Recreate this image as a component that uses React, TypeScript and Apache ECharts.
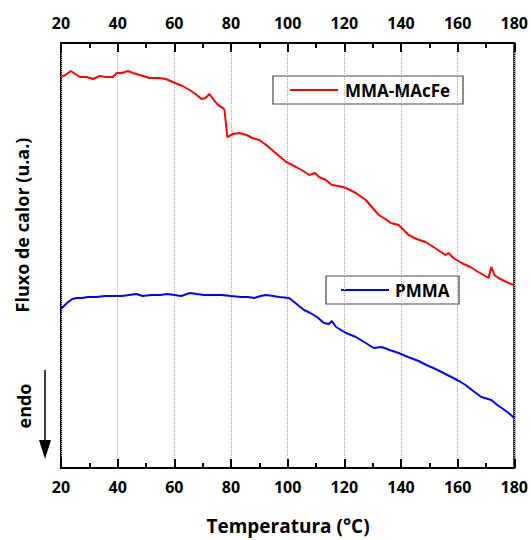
import React, { useEffect, useRef } from "react";
import * as echarts from "echarts";

// Temperature (°C) and heat flow (arbitrary units)
const mmaTemp = [20, 21.5, 23.5, 25.0, 26.7, 29.0, 31.3, 33.7, 36.0, 38.3, 39.7, 41.5, 43.6, 45.5, 47.8, 51.3, 54.8, 57.0, 59.4, 62.9, 65.4, 67.5, 69.6, 71.0, 72.4, 74.2, 75.9, 77.2, 77.7, 78.2, 78.7, 80.8, 82.9, 85.5, 87.5, 90.0, 92.0, 94.5, 97.0, 99.5, 103.0, 105.5, 107.6, 109.7, 111.1, 113.5, 115.6, 118.0, 120.6, 124.1, 127.6, 130.0, 132.2, 134.5, 136.4, 139.2, 142.7, 145.5, 148.7, 152.0, 155.7, 156.8, 158.5, 161.4, 164.5, 167.3, 170.9, 171.9, 173.0, 174.4, 176.5, 178.9, 180];
const mmaFlow = [391, 393, 397, 394, 391, 391, 389, 392, 391, 391, 395, 395, 397, 395, 393, 390, 390, 389, 386, 382, 378, 374, 369, 370, 374, 367, 362, 360, 358, 345, 331, 334, 335, 333, 330, 328, 324, 318, 312, 306, 301, 297, 293, 295, 291, 288, 283, 282, 280, 275, 268, 260, 253, 249, 245, 243, 233, 229, 226, 220, 213, 215, 210, 205, 201, 196, 190, 201, 193, 190, 187, 184, 183];

const pmmaTemp = [20, 21.0, 22.5, 24.0, 25.5, 27.5, 29.5, 32.5, 35.5, 38.5, 41.5, 44.0, 46.7, 48.8, 52.0, 55.0, 57.6, 60.0, 62.5, 65.4, 68.0, 70.6, 73.5, 76.6, 80.0, 83.6, 86.0, 88.2, 90.5, 92.4, 95.0, 97.0, 100.5, 102.3, 104.0, 105.8, 108.0, 110.4, 112.8, 114.6, 115.6, 117.1, 120.6, 124.1, 127.0, 130.4, 133.2, 136.0, 139.2, 142.5, 146.2, 149.0, 152.2, 155.0, 157.8, 160.5, 162.8, 165.5, 168.4, 171.9, 174.0, 176.1, 178.0, 180];
const pmmaFlow = [159, 162, 166, 169, 170, 170, 171, 171, 172, 172, 172, 173, 174, 172, 173, 173, 174, 173, 172, 175, 174, 173, 173, 173, 172, 171, 171, 170, 172, 173, 172, 171, 170, 166, 162, 158, 155, 151, 145, 144, 147, 141, 135, 131, 126, 120, 121, 118, 115, 111, 107, 103, 99, 95, 91, 87, 83, 77, 71, 68, 63, 59, 55, 50];

const seriesNames = ["MMA-MAcFe", "PMMA"];
const seriesColors = ["#ff0000", "#0000ff"];
const xTitle = "Temperatura (°C)";
const yTitle = "Fluxo de calor (u.a.)";
const endoLabel = "endo";

const FONT = "'Open Sans', 'Noto Sans', sans-serif";

export default function App() {
  const ref = useRef<HTMLDivElement>(null);
  useEffect(() => {
    if (!ref.current) return;
    const chart = echarts.init(ref.current, null, { renderer: "svg" });
    const xAxisBase = {
      type: "value" as const,
      min: 20,
      max: 180,
      interval: 20,
      axisLine: { show: true, lineStyle: { color: "#000", width: 2 } },
      axisTick: { show: true, inside: true, length: 9, lineStyle: { color: "#000", width: 2 } },
      minorTick: { show: true, splitNumber: 2, length: 5, lineStyle: { color: "#000", width: 2 } },
      axisLabel: { color: "#000", fontSize: 16, fontWeight: "bold" as const, fontFamily: FONT },
      splitLine: { show: false },
    };
    const legendBox = (x: number, y: number, w: number, h: number, lineX: number, textX: number, name: string, color: string) => ({
      type: "group",
      children: [
        { type: "rect", shape: { x, y, width: w, height: h }, style: { fill: "#fff", stroke: "#444", lineWidth: 1.2 } },
        { type: "line", shape: { x1: lineX, y1: y + h / 2, x2: lineX + 48, y2: y + h / 2 }, style: { stroke: color, lineWidth: 2 } },
        { type: "text", x: textX, y: y + h / 2, style: { text: name, fill: "#000", font: `bold 17px ${FONT}`, textVerticalAlign: "middle", textAlign: "left" } },
      ],
    });
    chart.setOption({
      animation: false,
      backgroundColor: "#fff",
      grid: { left: 61, top: 43, width: 455, height: 425, show: true, borderColor: "#000", borderWidth: 2 },
      xAxis: [
        {
          ...xAxisBase,
          position: "bottom",
          axisLabel: { ...xAxisBase.axisLabel, margin: 11 },
          splitLine: { show: true, lineStyle: { color: "#aaa", type: "dotted", width: 1 } },
        },
        { ...xAxisBase, position: "top", axisLabel: { ...xAxisBase.axisLabel, margin: 12 } },
      ],
      yAxis: { type: "value", min: 0, max: 425, show: false },
      series: [
        {
          name: seriesNames[0],
          type: "line",
          data: mmaTemp.map((t, i) => [t, mmaFlow[i]]),
          showSymbol: false,
          symbol: "none",
          lineStyle: { color: seriesColors[0], width: 2 },
          xAxisIndex: 0,
        },
        {
          name: seriesNames[1],
          type: "line",
          data: pmmaTemp.map((t, i) => [t, pmmaFlow[i]]),
          showSymbol: false,
          symbol: "none",
          lineStyle: { color: seriesColors[1], width: 2 },
          xAxisIndex: 0,
        },
      ],
      graphic: [
        legendBox(273, 76, 190, 28, 290, 345, seriesNames[0], seriesColors[0]),
        legendBox(326, 276, 133, 28, 341, 395, seriesNames[1], seriesColors[1]),
        {
          type: "text",
          x: 288,
          y: 526,
          style: { text: xTitle, fill: "#000", font: `bold 19px ${FONT}`, textAlign: "center", textVerticalAlign: "middle" },
        },
        {
          type: "text",
          x: 22,
          y: 225,
          rotation: Math.PI / 2,
          style: { text: yTitle, fill: "#000", font: `bold 18px ${FONT}`, textAlign: "center", textVerticalAlign: "middle" },
        },
        {
          type: "text",
          x: 24,
          y: 406,
          rotation: Math.PI / 2,
          style: { text: endoLabel, fill: "#000", font: `bold 18px ${FONT}`, textAlign: "center", textVerticalAlign: "middle" },
        },
        { type: "line", shape: { x1: 45, y1: 370, x2: 45, y2: 445 }, style: { stroke: "#000", lineWidth: 1.5 } },
        { type: "polygon", shape: { points: [[39, 440], [51, 440], [45, 459]] }, style: { fill: "#000" } },
      ],
    });
    return () => chart.dispose();
  }, []);
  return <div ref={ref} style={{ position: "absolute", left: 0, top: 0, width: 531, height: 540 }} />;
}
